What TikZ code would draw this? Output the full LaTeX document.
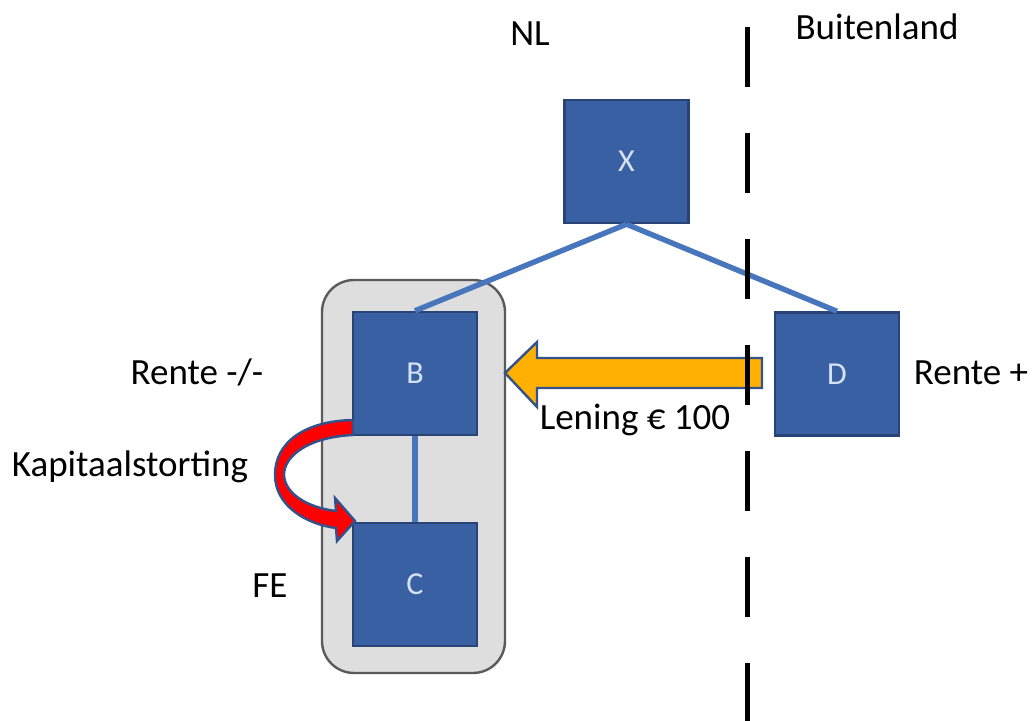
\documentclass[tikz,border=0pt]{standalone}
\usepackage{fontspec}
\setmainfont{Carlito}
\definecolor{boxblue}{RGB}{56,96,162}
\definecolor{boxedge}{RGB}{40,68,118}
\definecolor{linkblue}{RGB}{72,118,188}
\definecolor{arrowedge}{RGB}{50,82,140}
\definecolor{loanorange}{RGB}{255,176,0}
\definecolor{feshade}{RGB}{222,222,222}
\definecolor{feedge}{RGB}{90,90,90}
\definecolor{letterblue}{RGB}{214,226,244}
\tikzset{
    entity/.style={rectangle, fill=boxblue, draw=boxedge, line width=1.2pt,
        minimum width=62pt, minimum height=61.5pt, inner sep=0pt,
        text=letterblue, font=\fontsize{16}{18}\selectfont},
    label/.style={anchor=base, inner sep=0pt, font=\fontsize{18.5}{22}\selectfont},
    link/.style={draw=linkblue, line width=2.7pt}
}
\begin{document}
\begin{tikzpicture}[x=0.5pt, y=-0.5pt]
            \useasboundingbox (0,0) rectangle (1034,721);

            \node[rectangle, rounded corners=16pt, fill=feshade, draw=feedge,
                line width=1.2pt, minimum width=91.5pt, minimum height=196.5pt]
                (feframe) at (413.5,476.5) {};

            \node[entity] (X) at (626.5,161.5) {X};
            \node[entity] (B) at (415,373.5) {B};
            \node[entity] (C) at (415,584.5) {C};
            \node[entity] (D) at (837,374) {D};

            \draw[link] (X.south) -- (B.north);
            \draw[link] (X.south) -- (D.north);
            \draw[link] (B.south) -- (C.north);

            % loan arrow D -> B
            \coordinate (tip) at (505,373);
            \filldraw[fill=loanorange, draw=arrowedge, line width=1.2pt, line join=miter]
                (tip) -- ++(32,-31) -- ++(0,16) -- ++(225,0) -- ++(0,30)
                -- ++(-225,0) -- ++(0,19) -- cycle;

            % capital contribution B -> C
            \filldraw[fill=red, draw=arrowedge, line width=1.2pt]
                (353,420) .. controls (305,421) and (275,442) .. (275,475)
                .. controls (275,505) and (305,524) .. (336,528)
                -- (337,541) -- (355,521) -- (335,498) -- (336,511)
                .. controls (310,508) and (285,495) .. (284,475)
                .. controls (284,455) and (310,437) .. (353,435) -- cycle;

            % border NL / Buitenland
            \coordinate (bordertop) at (747,27);
            \coordinate (borderbottom) at (747,721);
            \draw[line width=2.5pt, dash pattern=on 30pt off 23pt]
                (bordertop) -- (borderbottom);

            \node[label] (nl) at (530,46) {NL};
            \node[label] (abroad) at (877,40) {Buitenland};
            \node[label] (rentmin) at (197,385) {Rente -/-};
            \node[label] (rentplus) at (971,385) {Rente +};
            \node[label] (kap) at (130,477) {Kapitaalstorting};
            \node[label] (fe) at (270,597) {FE};
            \node[label] (loan) at (635,430) {Lening € 100};
        \end{tikzpicture}
\end{document}
